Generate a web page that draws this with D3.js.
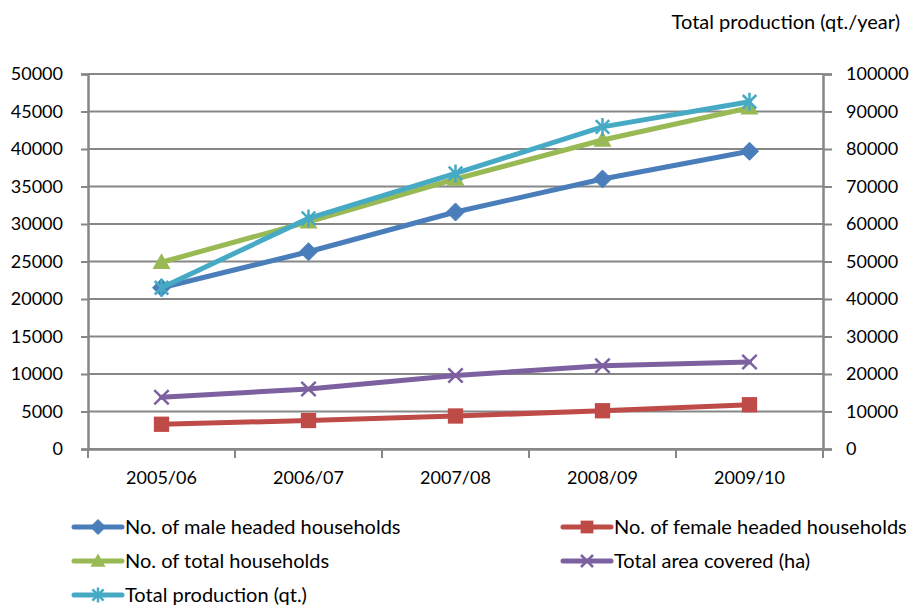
<!DOCTYPE html>
<html>
<head>
<meta charset="utf-8">
<script src="https://cdn.jsdelivr.net/npm/d3@7/dist/d3.min.js"></script>
<style>
  html, body { margin: 0; padding: 0; background: #fff; }
  svg { display: block; font-family: Lato, "Open Sans", sans-serif; }
</style>
</head>
<body>
<svg id="chart" width="911" height="606"></svg>
<script>
// Seasons on the category axis
const categories = ["2005/06", "2006/07", "2007/08", "2008/09", "2009/10"];

// Left-axis series (households and hectares)
const maleHouseholds   = [21500, 26300, 31600, 36000, 39700];
const femaleHouseholds = [3300, 3800, 4400, 5100, 5900];
const totalHouseholds  = [24900, 30300, 36000, 41200, 45500];
const areaCovered      = [6900, 8000, 9800, 11100, 11600];

// Right-axis series (quintals per year)
const totalProduction  = [43000, 61500, 73500, 85900, 92600];

// Tick labels
const leftTicks  = [0, 5000, 10000, 15000, 20000, 25000, 30000, 35000, 40000, 45000, 50000];
const rightTicks = [0, 10000, 20000, 30000, 40000, 50000, 60000, 70000, 80000, 90000, 100000];

const series = [
  { name: "No. of male headed households",   values: maleHouseholds,   color: "#4A7EBB", marker: "diamond",  axis: "left" },
  { name: "No. of female headed households", values: femaleHouseholds, color: "#BE4B48", marker: "square",   axis: "left" },
  { name: "No. of total households",         values: totalHouseholds,  color: "#98B954", marker: "triangle", axis: "left" },
  { name: "Total area covered (ha)",         values: areaCovered,      color: "#7D60A0", marker: "x",        axis: "left" },
  { name: "Total production (qt.)",          values: totalProduction,  color: "#46AAC5", marker: "star",     axis: "right" }
];

const svg = d3.select("#chart");
const plot = { left: 88, right: 823, top: 74, bottom: 449 };
const axisGrey = "#878787";

const x = d3.scaleBand().domain(categories).range([plot.left, plot.right]).paddingInner(0).paddingOuter(0);
const yL = d3.scaleLinear().domain([0, 50000]).range([plot.bottom, plot.top]);
const yR = d3.scaleLinear().domain([0, 100000]).range([plot.bottom, plot.top]);

// Horizontal gridlines
svg.append("g")
  .selectAll("line")
  .data(leftTicks)
  .join("line")
  .attr("x1", plot.left).attr("x2", plot.right)
  .attr("y1", d => yL(d)).attr("y2", d => yL(d))
  .attr("stroke", axisGrey).attr("stroke-width", 2);

// Left value axis
const gL = svg.append("g")
  .attr("transform", `translate(${plot.left},0)`)
  .call(d3.axisLeft(yL).tickValues(leftTicks).tickSize(7).tickPadding(18).tickFormat(d3.format("d")));
gL.select(".domain").attr("stroke", axisGrey).attr("stroke-width", 2.5);
gL.selectAll(".tick line").attr("stroke", axisGrey).attr("stroke-width", 2);
gL.selectAll(".tick text").attr("font-size", 18).attr("fill", "#000").attr("font-family", "Lato, sans-serif");

// Right value axis
const gR = svg.append("g")
  .attr("transform", `translate(${plot.right},0)`)
  .call(d3.axisRight(yR).tickValues(rightTicks).tickSize(9).tickPadding(14).tickFormat(d3.format("d")));
gR.select(".domain").attr("stroke", axisGrey).attr("stroke-width", 2.5);
gR.selectAll(".tick line").attr("stroke", axisGrey).attr("stroke-width", 2);
gR.selectAll(".tick text").attr("font-size", 18).attr("fill", "#000").attr("font-family", "Lato, sans-serif");

// Category axis: labels centred in bands, tick marks on band boundaries
const gX = svg.append("g")
  .attr("transform", `translate(0,${plot.bottom})`)
  .call(d3.axisBottom(x).tickSize(0).tickPadding(22));
gX.select(".domain").attr("stroke", axisGrey).attr("stroke-width", 2.5);
gX.selectAll(".tick text").attr("font-size", 18).attr("fill", "#000").attr("font-family", "Lato, sans-serif");

const boundaries = categories.map(c => x(c)).concat([x.range()[1]]);
svg.append("g")
  .selectAll("line")
  .data(boundaries)
  .join("line")
  .attr("x1", d => d).attr("x2", d => d)
  .attr("y1", plot.bottom).attr("y2", plot.bottom + 9)
  .attr("stroke", axisGrey).attr("stroke-width", 2);

// Secondary axis title
svg.append("text")
  .attr("x", 900).attr("y", 29)
  .attr("text-anchor", "end")
  .attr("font-size", 20)
  .attr("fill", "#000")
  .text("Total production (qt./year)");

// Marker drawing
function drawMarker(g, type, color, s) {
  const h = s / 2;
  if (type === "diamond") {
    g.append("path").attr("d", `M0,${-h}L${h},0L0,${h}L${-h},0Z`).attr("fill", color).attr("stroke", color).attr("stroke-width", 1);
  } else if (type === "square") {
    const q = h * 0.85;
    g.append("rect").attr("x", -q).attr("y", -q).attr("width", 2 * q).attr("height", 2 * q).attr("fill", color);
  } else if (type === "triangle") {
    g.append("path").attr("d", `M0,${-h}L${h},${h * 0.75}L${-h},${h * 0.75}Z`).attr("fill", color);
  } else if (type === "x") {
    const q = h * 0.8;
    g.append("path").attr("d", `M${-q},${-q}L${q},${q}M${-q},${q}L${q},${-q}`).attr("stroke", color).attr("stroke-width", 2.5).attr("fill", "none");
  } else if (type === "star") {
    const q = h * 0.75;
    g.append("path").attr("d", `M${-q},${-q}L${q},${q}M${-q},${q}L${q},${-q}M0,${-h}L0,${h}`).attr("stroke", color).attr("stroke-width", 2.5).attr("fill", "none");
  }
}

// Series lines and markers
const cx = c => x(c) + x.bandwidth() / 2;
series.forEach(s => {
  const y = s.axis === "left" ? yL : yR;
  const pts = categories.map((c, i) => [cx(c), y(s.values[i])]);
  const g = svg.append("g");
  g.append("path")
    .attr("d", d3.line()(pts))
    .attr("fill", "none")
    .attr("stroke", s.color)
    .attr("stroke-width", 5)
    .attr("stroke-linejoin", "round")
    .attr("stroke-linecap", "round");
  pts.forEach(p => {
    const m = g.append("g").attr("transform", `translate(${p[0]},${p[1]})`);
    drawMarker(m, s.marker, s.color, 18);
  });
});

// Legend: two columns, filled row by row
const legendRows = [527, 561, 595];
const legendCols = [74, 563];
series.forEach((s, i) => {
  const col = i % 2, row = Math.floor(i / 2);
  const lx = legendCols[col], ly = legendRows[row];
  const g = svg.append("g").attr("transform", `translate(${lx},${ly})`);
  g.append("line").attr("x1", 0).attr("x2", 48).attr("y1", 0).attr("y2", 0)
    .attr("stroke", s.color).attr("stroke-width", 5).attr("stroke-linecap", "round");
  const m = g.append("g").attr("transform", "translate(24,0)");
  drawMarker(m, s.marker, s.color, 15);
  g.append("text").attr("x", 51).attr("y", 0).attr("dy", "0.35em")
    .attr("font-size", 20).attr("fill", "#000").text(s.name);
});
</script>
</body>
</html>
